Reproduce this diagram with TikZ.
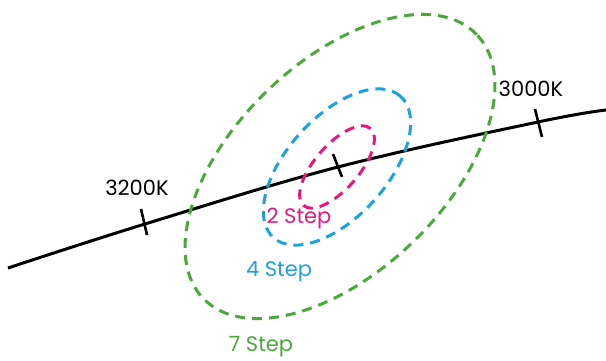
\documentclass[tikz,border=0pt]{standalone}
\usepackage{fontspec}
\setmainfont{Poppins}
\begin{document}
\begin{tikzpicture}[x=1pt,y=1pt,
  lbl/.style={inner sep=0pt,font=\fontsize{21}{22}\selectfont},
  ring/.style={line width=3pt,dash pattern=on 10pt off 7pt},
  tickmark/.style={line width=2.6pt}]
\definecolor{cgreen}{HTML}{4CA83A}
\definecolor{cblue}{HTML}{1BA1E2}
\definecolor{cpink}{HTML}{E6197F}
\useasboundingbox (0,0) rectangle (606,360);
% locus curve
\draw[line width=3pt] plot[smooth,tension=0.6] coordinates {(8,92) (145,136) (338,193) (538,238) (606,250)};
% ticks
\draw[tickmark] (141,151) -- (147,125);
\draw[tickmark] (333,206) -- (342,183);
\draw[tickmark] (535,251) -- (542,223);
% ellipses
\draw[ring,cpink,rotate around={49:(337,193)}] (337,193) ellipse (51 and 22);
\draw[ring,cblue,rotate around={48:(337,193)}] (337,193) ellipse (95 and 50);
\draw[ring,cgreen,rotate around={44:(340,193.5)}] (340,193.5) ellipse (190 and 105);
% labels
\node[lbl] (t3200) at (137,172) {3200K};
\node[lbl] (t3000) at (531,271) {3000K};
\node[lbl,text=cpink] (s2) at (299,141) {2 Step};
\node[lbl,text=cblue] (s4) at (279,88) {4 Step};
\node[lbl,text=cgreen] (s7) at (261,13) {7 Step};
\end{tikzpicture}
\end{document}
